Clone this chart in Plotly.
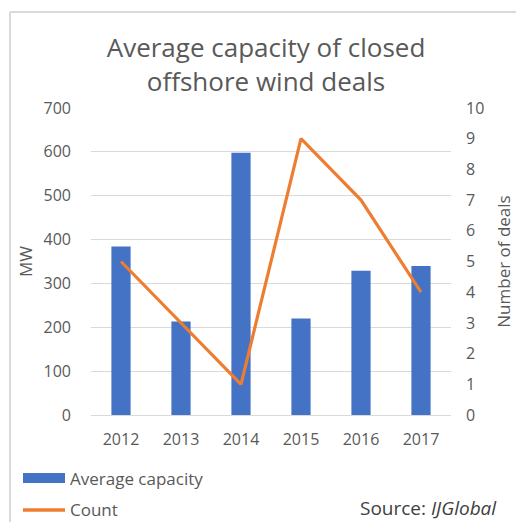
import plotly.graph_objects as go

years = ["2012", "2013", "2014", "2015", "2016", "2017"]
avg_capacity = [384, 213, 598, 220, 329, 340]
deal_count = [5, 3, 1, 9, 7, 4]

FONT = "Open Sans"
GRAY = "#595959"

fig = go.Figure()
fig.add_trace(go.Bar(
    x=years, y=avg_capacity, name="Average capacity",
    marker=dict(color="#4472C4", line=dict(width=0)),
    yaxis="y", showlegend=False,
))
fig.add_trace(go.Scatter(
    x=years, y=deal_count, name="Count", mode="lines",
    line=dict(color="#ED7D31", width=3.2),
    yaxis="y2", showlegend=False,
))

L, R, T, B = 91, 65, 108, 107
W, H = 516, 522
pw, ph = W - L - R, H - T - B

def px(x):
    return (x - L) / pw

def py(y):
    return (H - B - y) / ph

fig.update_layout(
    width=W, height=H,
    margin=dict(l=L, r=R, t=T, b=B, autoexpand=False),
    paper_bgcolor="white", plot_bgcolor="white",
    font=dict(family=FONT, size=16, color=GRAY),
    title=dict(
        text="Average capacity of closed<br>offshore wind deals",
        x=px(266), xanchor="center", xref="paper",
        y=1 - 57 / H, yanchor="middle", yref="container",
        font=dict(family=FONT, size=26, color=GRAY),
    ),
    bargap=0.68,
    xaxis=dict(
        type="category", showgrid=False, showline=True,
        linecolor="#d9d9d9", linewidth=1, ticks="",
        ticklabelstandoff=10,
        tickfont=dict(size=16, color=GRAY),
    ),
    yaxis=dict(
        range=[0, 700], dtick=100, showgrid=True, gridcolor="#d9d9d9",
        gridwidth=1, zeroline=False, showline=False, ticks="",
        ticklabelstandoff=19,
        tickfont=dict(size=16, color=GRAY),
        title=dict(text="MW", font=dict(size=17, color=GRAY), standoff=6),
    ),
    yaxis2=dict(
        range=[0, 10], dtick=1, overlaying="y", side="right",
        showgrid=False, zeroline=False, showline=False, ticks="",
        ticklabelstandoff=14,
        tickfont=dict(size=16, color=GRAY),
        title=dict(text="Number of deals", font=dict(size=17, color=GRAY), standoff=14),
    ),
    showlegend=False,
    shapes=[
        dict(type="line", xref="paper", yref="paper",
             x0=px(10), x1=px(W + 5), y0=py(12), y1=py(12),
             line=dict(color="#d9d9d9", width=2)),
        dict(type="line", xref="paper", yref="paper",
             x0=px(10), x1=px(10), y0=py(12), y1=py(H + 5),
             line=dict(color="#d9d9d9", width=2)),
        # legend swatches
        dict(type="rect", xref="paper", yref="paper",
             x0=px(23), x1=px(65), y0=py(473), y1=py(483),
             fillcolor="#4472C4", line=dict(width=0)),
        dict(type="line", xref="paper", yref="paper",
             x0=px(23), x1=px(65), y0=py(510), y1=py(510),
             line=dict(color="#ED7D31", width=3.5)),
    ],
    annotations=[
        dict(text="Average capacity", xref="paper", yref="paper",
             x=px(68), y=py(478), xanchor="left", yanchor="middle",
             showarrow=False, font=dict(family=FONT, size=17, color=GRAY)),
        dict(text="Count", xref="paper", yref="paper",
             x=px(68), y=py(509), xanchor="left", yanchor="middle",
             showarrow=False, font=dict(family=FONT, size=17, color=GRAY)),
        dict(text="Source: <i>IJGlobal</i>", xref="paper", yref="paper",
             x=px(499), y=py(508), xanchor="right", yanchor="middle",
             showarrow=False, font=dict(family=FONT, size=19, color="#404040")),
    ],
)

fig.write_html(
    "out.html",
    config={"displayModeBar": False},
    post_script="document.body.style.margin='0';document.body.style.overflow='hidden';",
)
